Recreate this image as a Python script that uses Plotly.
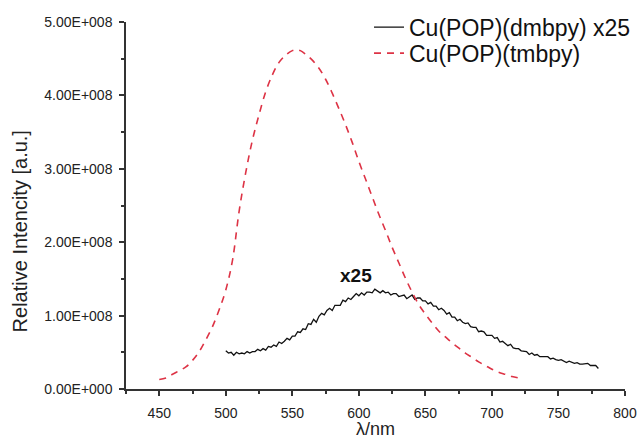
import plotly.graph_objects as go

# Cu(POP)(dmbpy) x25 — black solid (values in units of 1e8), 2-nm steps from 500 to 780
dmbpy_x = list(range(500, 782, 2))
dmbpy_y = [
    0.52, 0.49, 0.50, 0.46, 0.50, 0.48, 0.49, 0.48, 0.51, 0.49,
    0.51, 0.51, 0.54, 0.52, 0.55, 0.53, 0.58, 0.57, 0.60, 0.58,
    0.64, 0.62, 0.65, 0.69, 0.67, 0.72, 0.72, 0.78, 0.77, 0.82,
    0.81, 0.89, 0.88, 0.95, 0.91, 0.99, 1.03, 1.01, 1.07, 1.10,
    1.07, 1.14, 1.14, 1.14, 1.21, 1.19, 1.24, 1.22, 1.26, 1.30,
    1.27, 1.31, 1.28, 1.32, 1.32, 1.31, 1.36, 1.34, 1.31, 1.34,
    1.31, 1.32, 1.28, 1.30, 1.30, 1.26, 1.27, 1.28, 1.23, 1.25,
    1.28, 1.22, 1.24, 1.24, 1.20, 1.20, 1.16, 1.18, 1.13, 1.13,
    1.08, 1.10, 1.07, 1.02, 1.04, 0.98, 0.98, 0.93, 0.95, 0.91,
    0.89, 0.90, 0.85, 0.84, 0.84, 0.78, 0.79, 0.78, 0.73, 0.73,
    0.73, 0.69, 0.70, 0.64, 0.65, 0.62, 0.59, 0.61, 0.56, 0.55,
    0.55, 0.52, 0.52, 0.51, 0.47, 0.49, 0.46, 0.47, 0.44, 0.44,
    0.43, 0.44, 0.41, 0.42, 0.40, 0.39, 0.40, 0.38, 0.36, 0.38,
    0.36, 0.35, 0.36, 0.34, 0.34, 0.35, 0.35, 0.32, 0.32, 0.32,
    0.28,
]

# Cu(POP)(tmbpy) — red dashed (values in units of 1e8)
tmbpy_x = [450, 455, 460, 465, 470, 475, 480, 485, 490, 495, 500, 505, 510, 515,
           520, 525, 530, 535, 540, 545, 550, 553, 556, 560, 565, 570, 575, 580,
           585, 590, 595, 600, 605, 610, 615, 620, 625, 630, 635, 640, 645, 650,
           655, 660, 665, 670, 675, 680, 685, 690, 695, 700, 705, 710, 715, 720]
tmbpy_y = [0.13, 0.15, 0.20, 0.25, 0.30, 0.39, 0.51, 0.67, 0.85, 1.08, 1.35, 1.75, 2.42, 2.95,
           3.39, 3.74, 4.05, 4.28, 4.45, 4.55, 4.61, 4.62, 4.61, 4.56, 4.48, 4.37, 4.22, 4.03,
           3.82, 3.60, 3.36, 3.10, 2.86, 2.62, 2.38, 2.16, 1.93, 1.72, 1.51, 1.32, 1.15, 1.02,
           0.90, 0.79, 0.71, 0.63, 0.56, 0.49, 0.43, 0.37, 0.32, 0.27, 0.23, 0.20, 0.17, 0.15]

scale = 1e8
y_tickvals = [0, 1, 2, 3, 4, 5]
y_ticktext = ["0.00E+000", "1.00E+008", "2.00E+008", "3.00E+008", "4.00E+008", "5.00E+008"]
x_tickvals = [450, 500, 550, 600, 650, 700, 750, 800]

FONT = "Arial, Liberation Sans, sans-serif"

fig = go.Figure()
fig.add_trace(go.Scatter(
    x=dmbpy_x, y=[v * scale for v in dmbpy_y], mode="lines", legend="legend",
    name="Cu(POP)(dmbpy) x25", line=dict(color="#111111", width=1.3)))
fig.add_trace(go.Scatter(
    x=tmbpy_x, y=[v * scale for v in tmbpy_y], mode="lines", line_shape="spline",
    legend="legend2",
    name="Cu(POP)(tmbpy)", line=dict(color="#dd3345", width=1.6, dash="7px,6px")))

fig.add_annotation(x=598, y=1.55e8, text="<b>x25</b>", showarrow=False,
                   font=dict(family=FONT, size=19, color="#111111"))
fig.add_annotation(xref="paper", yref="paper", x=-0.212, y=0.43, textangle=-90,
                   text="Relative Intencity [a.u.]", showarrow=False,
                   xanchor="center", yanchor="middle",
                   font=dict(family=FONT, size=20, color="#222222"))

axis_common = dict(
    showline=True, linecolor="#333333", linewidth=1.5, ticks="outside", ticklen=5,
    tickwidth=1.5, tickcolor="#333333", showgrid=False, zeroline=False, automargin=False,
    tickfont=dict(family=FONT, size=14, color="#222222"),
)

legend_common = dict(xanchor="left", yanchor="middle", bgcolor="rgba(0,0,0,0)",
                     font=dict(family=FONT, size=23, color="#111111"))

fig.update_layout(
    width=639, height=439,
    margin=dict(l=126, r=14, t=22, b=50, autoexpand=False),
    plot_bgcolor="white", paper_bgcolor="white",
    font=dict(family=FONT, color="#222222"),
    showlegend=True,
    legend=dict(x=0.487, y=0.986, **legend_common),
    legend2=dict(x=0.487, y=0.915, **legend_common),
    xaxis=dict(range=[425, 800], tickvals=x_tickvals, ticklabelstandoff=5,
               minor=dict(ticks="outside", ticklen=3, tickwidth=1.5, tickcolor="#333333",
                          dtick=25, tick0=425),
               title=dict(text="λ/nm", font=dict(family=FONT, size=18), standoff=11),
               **axis_common),
    yaxis=dict(range=[0, 5e8], tickvals=[v * scale for v in y_tickvals], ticktext=y_ticktext,
               ticklabelstandoff=4,
               minor=dict(ticks="outside", ticklen=3, tickwidth=1.5, tickcolor="#333333",
                          dtick=0.5e8, tick0=0),
               **axis_common),
)

fig.write_html(
    "out.html",
    config={"displayModeBar": False},
    post_script="document.body.style.margin='0';document.body.style.overflow='hidden';",
)
